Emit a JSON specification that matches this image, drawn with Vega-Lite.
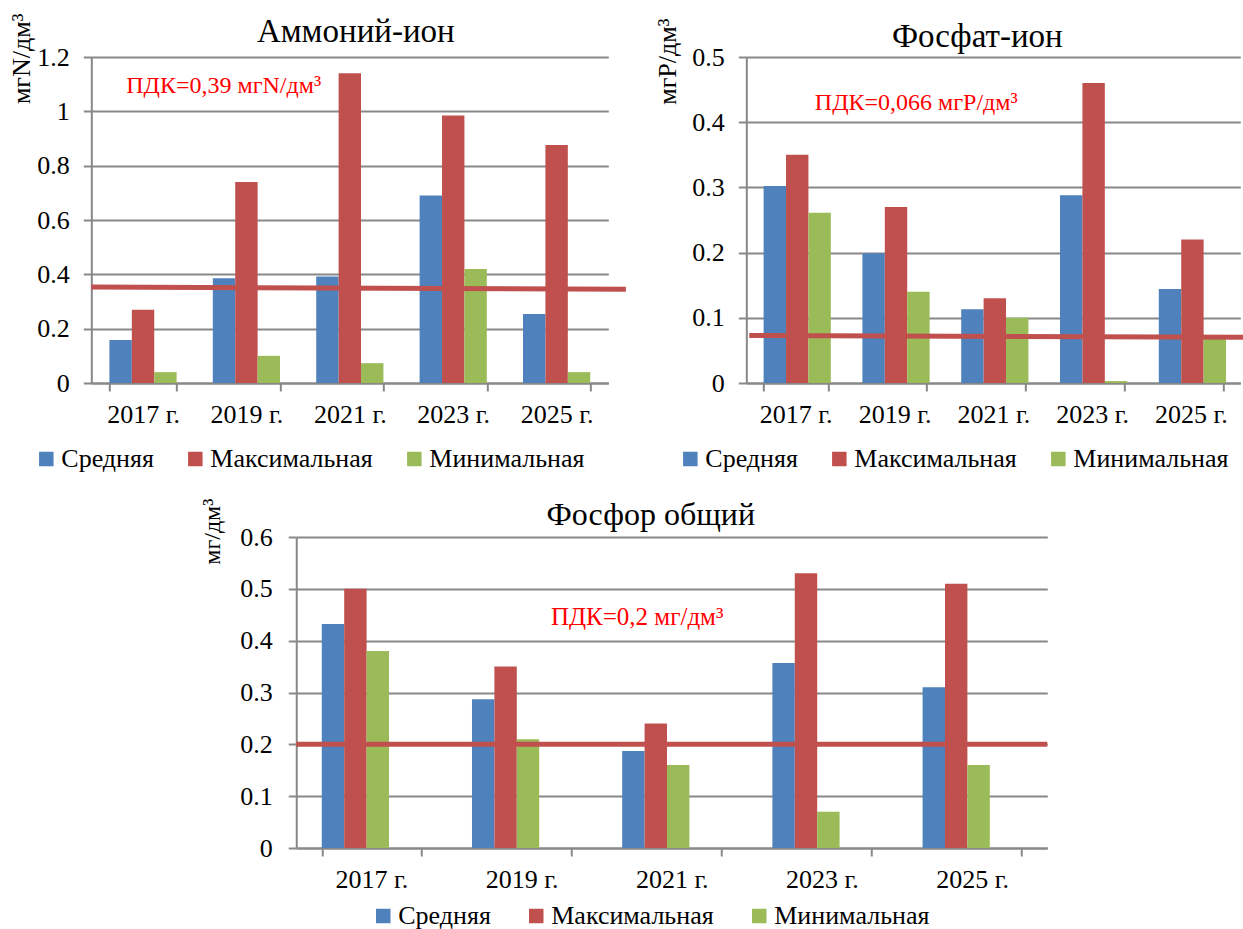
{
  "$schema": "https://vega.github.io/schema/vega-lite/v6.json",
  "background": "white",
  "padding": {"left": 8, "top": 12, "right": 0, "bottom": 0},
  "config": {
    "font": "Liberation Serif",
    "view": {"stroke": null},
    "style": {"guide-label": {"font": "Liberation Serif", "fill": "black"}, "guide-title": {"font": "Liberation Serif", "fill": "black"}},
    "axis": {"labelFont": "Liberation Serif", "labelFontSize": 26, "labelColor": "black", "domainColor": "#888888", "domainWidth": 2, "tickColor": "#888888", "tickWidth": 2, "gridColor": "#888888", "gridWidth": 2, "titleFont": "Liberation Serif", "titleFontWeight": "normal", "titleColor": "black"},
    "legend": {"orient": "none", "direction": "horizontal", "title": null, "symbolType": "square", "symbolSize": 210, "symbolStrokeWidth": 0, "labelFont": "Liberation Serif", "labelFontSize": 26, "labelColor": "black", "labelLimit": 400, "columnPadding": 28, "labelOffset": 2},
    "title": {"font": "Liberation Serif", "fontSize": 33, "fontWeight": "normal", "color": "black", "offset": -36}
  },
  "datasets": {
    "amm": [
      {"year": "2017 г.", "series": "Средняя", "value": 0.158},
      {"year": "2017 г.", "series": "Максимальная", "value": 0.27},
      {"year": "2017 г.", "series": "Минимальная", "value": 0.04},
      {"year": "2019 г.", "series": "Средняя", "value": 0.386},
      {"year": "2019 г.", "series": "Максимальная", "value": 0.74},
      {"year": "2019 г.", "series": "Минимальная", "value": 0.1},
      {"year": "2021 г.", "series": "Средняя", "value": 0.392},
      {"year": "2021 г.", "series": "Максимальная", "value": 1.14},
      {"year": "2021 г.", "series": "Минимальная", "value": 0.073},
      {"year": "2023 г.", "series": "Средняя", "value": 0.69},
      {"year": "2023 г.", "series": "Максимальная", "value": 0.985},
      {"year": "2023 г.", "series": "Минимальная", "value": 0.42},
      {"year": "2025 г.", "series": "Средняя", "value": 0.254},
      {"year": "2025 г.", "series": "Максимальная", "value": 0.876},
      {"year": "2025 г.", "series": "Минимальная", "value": 0.04}
    ],
    "phos": [
      {"year": "2017 г.", "series": "Средняя", "value": 0.302},
      {"year": "2017 г.", "series": "Максимальная", "value": 0.35},
      {"year": "2017 г.", "series": "Минимальная", "value": 0.261},
      {"year": "2019 г.", "series": "Средняя", "value": 0.199},
      {"year": "2019 г.", "series": "Максимальная", "value": 0.27},
      {"year": "2019 г.", "series": "Минимальная", "value": 0.14},
      {"year": "2021 г.", "series": "Средняя", "value": 0.113},
      {"year": "2021 г.", "series": "Максимальная", "value": 0.13},
      {"year": "2021 г.", "series": "Минимальная", "value": 0.1},
      {"year": "2023 г.", "series": "Средняя", "value": 0.288},
      {"year": "2023 г.", "series": "Максимальная", "value": 0.46},
      {"year": "2023 г.", "series": "Минимальная", "value": 0.003},
      {"year": "2025 г.", "series": "Средняя", "value": 0.144},
      {"year": "2025 г.", "series": "Максимальная", "value": 0.22},
      {"year": "2025 г.", "series": "Минимальная", "value": 0.07}
    ],
    "ptot": [
      {"year": "2017 г.", "series": "Средняя", "value": 0.432},
      {"year": "2017 г.", "series": "Максимальная", "value": 0.5},
      {"year": "2017 г.", "series": "Минимальная", "value": 0.38},
      {"year": "2019 г.", "series": "Средняя", "value": 0.287},
      {"year": "2019 г.", "series": "Максимальная", "value": 0.35},
      {"year": "2019 г.", "series": "Минимальная", "value": 0.21},
      {"year": "2021 г.", "series": "Средняя", "value": 0.187},
      {"year": "2021 г.", "series": "Максимальная", "value": 0.24},
      {"year": "2021 г.", "series": "Минимальная", "value": 0.16},
      {"year": "2023 г.", "series": "Средняя", "value": 0.357},
      {"year": "2023 г.", "series": "Максимальная", "value": 0.53},
      {"year": "2023 г.", "series": "Минимальная", "value": 0.07},
      {"year": "2025 г.", "series": "Средняя", "value": 0.31},
      {"year": "2025 г.", "series": "Максимальная", "value": 0.51},
      {"year": "2025 г.", "series": "Минимальная", "value": 0.16}
    ]
  },
  "vconcat": [
    {
      "hconcat": [
        {
          "width": 517, "height": 326,
          "title": {"text": "Аммоний-ион", "dx": 6},
          "layer": [
            {
              "data": {"name": "amm"},
              "mark": {"type": "bar"},
              "encoding": {
                "x": {"field": "year", "type": "nominal", "sort": null, "scale": {"paddingInner": 0.35, "paddingOuter": 0.175}, "axis": {"title": null, "labelAngle": 0, "labelFont": "Liberation Serif", "labelFontSize": 26, "tickBand": "extent", "grid": false, "tickSize": 8, "labelPadding": 10}},
                "xOffset": {"field": "series", "type": "nominal", "sort": ["Средняя", "Максимальная", "Минимальная"], "scale": {"paddingInner": 0, "paddingOuter": 0}},
                "y": {"field": "value", "type": "quantitative", "scale": {"domain": [0, 1.2], "nice": false}, "axis": {"title": "мгN/дм³", "titleFontSize": 26, "titleAnchor": "end", "titleY": -44, "titlePadding": 2, "labelFont": "Liberation Serif", "labelFontSize": 26, "values": [0, 0.2, 0.4, 0.6, 0.8, 1, 1.2], "format": "~g", "tickSize": 8, "labelPadding": 14}},
                "color": {"field": "series", "type": "nominal", "scale": {"domain": ["Средняя", "Максимальная", "Минимальная"], "range": ["#4F81BD", "#C0504D", "#9BBB59"]}, "legend": {"legendX": -58, "legendY": 389, "labelFont": "Liberation Serif", "labelFontSize": 26}}
              }
            },
            {
              "data": {"values": [{"x0": 0, "x1": 5.17, "y0": 0.353, "y1": 0.345}]},
              "mark": {"type": "rule", "color": "#C0504D", "strokeWidth": 5},
              "encoding": {
                "x": {"field": "x0", "type": "quantitative", "scale": {"domain": [0, 5]}, "axis": null},
                "x2": {"field": "x1"},
                "y": {"field": "y0", "type": "quantitative"},
                "y2": {"field": "y1"}
              }
            },
            {
              "data": {"values": [{"label": "ПДК=0,39 мгN/дм³", "px": 1.28, "py": 1.093}]},
              "mark": {"type": "text", "color": "#FF0000", "fontSize": 24, "font": "Liberation Serif"},
              "encoding": {
                "x": {"field": "px", "type": "quantitative", "scale": {"domain": [0, 5]}, "axis": null},
                "y": {"field": "py", "type": "quantitative"},
                "text": {"field": "label"}
              }
            }
          ],
          "resolve": {"scale": {"x": "independent"}}
        },
        {
          "width": 494, "height": 326,
          "title": {"text": "Фосфат-ион", "dx": -16},
          "layer": [
            {
              "data": {"name": "phos"},
              "mark": {"type": "bar"},
              "encoding": {
                "x": {"field": "year", "type": "nominal", "sort": null, "scale": {"paddingInner": 0.35, "paddingOuter": 0.175}, "axis": {"title": null, "labelAngle": 0, "labelFont": "Liberation Serif", "labelFontSize": 26, "tickBand": "extent", "grid": false, "tickSize": 8, "labelPadding": 10}},
                "xOffset": {"field": "series", "type": "nominal", "sort": ["Средняя", "Максимальная", "Минимальная"], "scale": {"paddingInner": 0, "paddingOuter": 0}},
                "y": {"field": "value", "type": "quantitative", "scale": {"domain": [0, 0.5], "nice": false}, "axis": {"title": "мгР/дм³", "titleFontSize": 26, "titleAnchor": "end", "titleY": -39, "titlePadding": 11, "labelFont": "Liberation Serif", "labelFontSize": 26, "values": [0, 0.05, 0.1, 0.15, 0.2, 0.25, 0.3, 0.35, 0.4, 0.45, 0.5], "format": "~g", "tickSize": 8, "labelPadding": 14}},
                "color": {"field": "series", "type": "nominal", "scale": {"domain": ["Средняя", "Максимальная", "Минимальная"], "range": ["#4F81BD", "#C0504D", "#9BBB59"]}, "legend": {"legendX": -69, "legendY": 389, "labelFont": "Liberation Serif", "labelFontSize": 26}}
              }
            },
            {
              "data": {"values": [{"x0": 0.03, "x1": 5.12, "y0": 0.073, "y1": 0.07}]},
              "mark": {"type": "rule", "color": "#C0504D", "strokeWidth": 5},
              "encoding": {
                "x": {"field": "x0", "type": "quantitative", "scale": {"domain": [0, 5]}, "axis": null},
                "x2": {"field": "x1"},
                "y": {"field": "y0", "type": "quantitative"},
                "y2": {"field": "y1"}
              }
            },
            {
              "data": {"values": [{"label": "ПДК=0,066 мгР/дм³", "px": 1.72, "py": 0.429}]},
              "mark": {"type": "text", "color": "#FF0000", "fontSize": 24, "font": "Liberation Serif"},
              "encoding": {
                "x": {"field": "px", "type": "quantitative", "scale": {"domain": [0, 5]}, "axis": null},
                "y": {"field": "py", "type": "quantitative"},
                "text": {"field": "label"}
              }
            }
          ],
          "resolve": {"scale": {"x": "independent"}}
        }
      ],
      "spacing": 25,
      "resolve": {"scale": {"color": "independent", "x": "independent", "y": "independent"}, "legend": {"color": "independent"}}
    },
    {
      "width": 751, "height": 311,
      "title": {"text": "Фосфор общий", "fontSize": 32, "offset": -34, "dx": -21},
      "layer": [
        {
          "data": {"name": "ptot"},
          "mark": {"type": "bar"},
          "encoding": {
            "x": {"field": "year", "type": "nominal", "sort": null, "scale": {"paddingInner": 0.34, "paddingOuter": 0.17}, "axis": {"title": null, "labelAngle": 0, "labelFont": "Liberation Serif", "labelFontSize": 26, "tickBand": "extent", "grid": false, "tickSize": 8, "labelPadding": 10}},
            "xOffset": {"field": "series", "type": "nominal", "sort": ["Средняя", "Максимальная", "Минимальная"], "scale": {"paddingInner": 0, "paddingOuter": 0}},
            "y": {"field": "value", "type": "quantitative", "scale": {"domain": [0, 0.6], "nice": false}, "axis": {"title": "мг/дм³", "titleFontSize": 24, "titleAnchor": "end", "titleY": -39, "titlePadding": 15, "labelFont": "Liberation Serif", "labelFontSize": 26, "values": [0, 0.1, 0.2, 0.3, 0.4, 0.5, 0.6], "format": "~g", "tickSize": 8, "labelPadding": 16}},
            "color": {"field": "series", "type": "nominal", "scale": {"domain": ["Средняя", "Максимальная", "Минимальная"], "range": ["#4F81BD", "#C0504D", "#9BBB59"]}, "legend": {"legendX": 74, "legendY": 366, "columnPadding": 32, "labelFont": "Liberation Serif", "labelFontSize": 26}}
          }
        },
        {
          "data": {"values": [{"pdk": 0.2}]},
          "mark": {"type": "rule", "color": "#C0504D", "strokeWidth": 5},
          "encoding": {"y": {"field": "pdk", "type": "quantitative"}}
        },
        {
          "data": {"values": [{"label": "ПДК=0,2 мг/дм³", "px": 2.27, "py": 0.446}]},
          "mark": {"type": "text", "color": "#FF0000", "fontSize": 25, "font": "Liberation Serif"},
          "encoding": {
            "x": {"field": "px", "type": "quantitative", "scale": {"domain": [0, 5]}, "axis": null},
            "y": {"field": "py", "type": "quantitative"},
            "text": {"field": "label"}
          }
        }
      ],
      "resolve": {"scale": {"x": "independent"}}
    }
  ],
  "center": true,
  "spacing": 25,
  "resolve": {"scale": {"color": "independent", "x": "independent", "y": "independent"}, "legend": {"color": "independent"}}
}
